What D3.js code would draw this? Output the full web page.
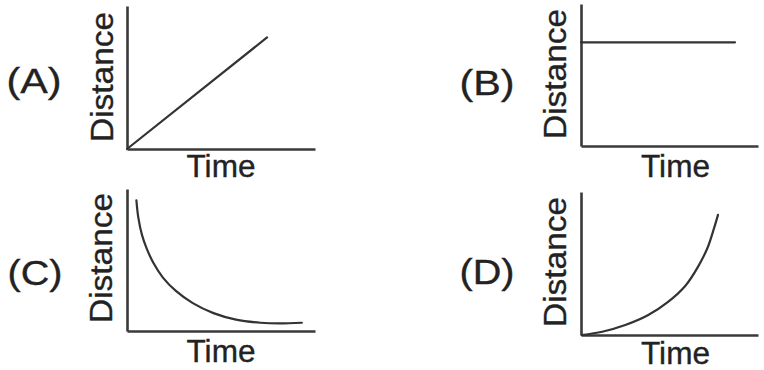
<!DOCTYPE html>
<html>
<head>
<meta charset="utf-8">
<script src="https://cdn.jsdelivr.net/npm/d3@7"></script>
<style>
  body { margin: 0; background: #fff; }
  text { font-family: "Liberation Sans", Arial, sans-serif; fill: #222; stroke: #222; stroke-width: 0.35; }
</style>
</head>
<body>
<div class="chart"></div>
<script>
// values, time and distance on a 0..10 scale
let panelNames = ["(A)", "(B)", "(C)", "(D)"];
let xLabel = "Time";
let yLabel = "Distance";

let timeA = [0, 7.45];
let distA = [0, 7.8];

let timeB = [0, 8.7];
let distB = [7.3, 7.3];

let timeC = [0.5, 0.6, 0.8, 1.05, 1.4, 1.9, 2.6, 3.5, 4.6, 5.8, 7.1, 8.1, 9.3];
let distC = [9.2, 8.0, 6.75, 5.8, 4.8, 3.78, 2.82, 1.96, 1.26, 0.8, 0.58, 0.53, 0.58];

let timeD = [0.05, 1.2, 2.5, 3.8, 4.9, 5.9, 6.6, 7.15, 7.5, 7.74];
let distD = [0, 0.23, 0.7, 1.4, 2.3, 3.45, 4.75, 6.1, 7.4, 8.4];

let series = [[timeA, distA], [timeB, distB], [timeC, distC], [timeD, distD]];

// pixel boxes of the four little plots
let boxes = [
    { left: 127, right: 315, bottom: 149, top: 6,   tag: [34, 93],  ylab: 113, ymid: 77,  tbase: 177 },
    { left: 581, right: 758, bottom: 146, top: 4,   tag: [487, 95], ylab: 566, ymid: 74,  tbase: 177 },
    { left: 127, right: 315, bottom: 331, top: 189, tag: [35, 285], ylab: 112, ymid: 258, tbase: 362 },
    { left: 581, right: 758, bottom: 335, top: 192, tag: [487, 284], ylab: 566, ymid: 262, tbase: 364 }
];

let svg = d3.select(".chart")
    .append("svg")
        .attr("width", 764)
        .attr("height", 370);

boxes.forEach((b, i) => {
    let g = svg.append("g");

    let xScale = d3.scaleLinear().domain([0, 10]).range([b.left, b.right]);
    let yScale = d3.scaleLinear().domain([0, 10]).range([b.bottom, b.top]);

    let xAxis = d3.axisBottom(xScale).tickValues([]).tickSizeOuter(0);
    let yAxis = d3.axisLeft(yScale).tickValues([]).tickSizeOuter(0);

    g.append("g")
        .attr("transform", `translate(0, ${b.bottom})`)
        .call(xAxis);
    g.append("g")
        .attr("transform", `translate(${b.left}, 0)`)
        .call(yAxis);
    g.selectAll(".domain")
        .attr("stroke", "#3a3a3a")
        .attr("stroke-width", 2.6);

    let pts = series[i][0].map((t, k) => [t, series[i][1][k]]);
    let line = d3.line()
        .x(d => xScale(d[0]))
        .y(d => yScale(d[1]))
        .curve(d3.curveCatmullRom.alpha(0.5));

    g.append("path")
        .datum(pts)
        .attr("d", line)
        .attr("fill", "none")
        .attr("stroke", "#333")
        .attr("stroke-width", 2.2)
        .attr("stroke-linecap", "round");

    g.append("text")
        .attr("x", b.tag[0])
        .attr("y", b.tag[1])
        .attr("text-anchor", "middle")
        .attr("font-size", 35)
        .attr("textLength", 55)
        .attr("lengthAdjust", "spacingAndGlyphs")
        .text(panelNames[i]);

    g.append("text")
        .attr("transform", `translate(${b.ylab}, ${b.ymid}) rotate(-90)`)
        .attr("text-anchor", "middle")
        .attr("font-size", 32)
        .attr("textLength", 130)
        .attr("lengthAdjust", "spacingAndGlyphs")
        .text(yLabel);

    g.append("text")
        .attr("x", (b.left + b.right) / 2 + (i % 2 ? 6 : 0))
        .attr("y", b.tbase)
        .attr("text-anchor", "middle")
        .attr("font-size", 31)
        .attr("textLength", 69)
        .attr("lengthAdjust", "spacingAndGlyphs")
        .text(xLabel);
});
</script>
</body>
</html>
